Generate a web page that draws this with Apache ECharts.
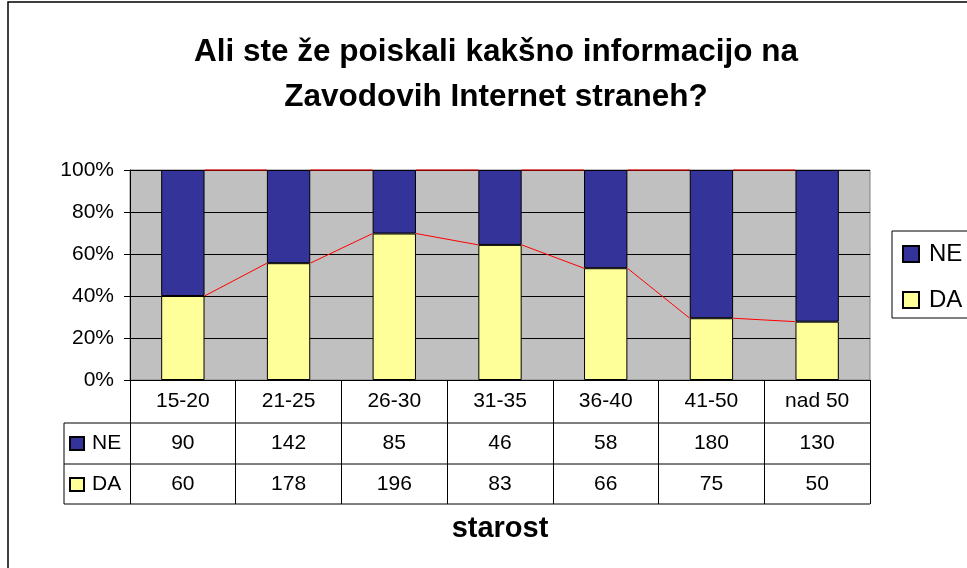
<!DOCTYPE html>
<html>
<head>
<meta charset="utf-8">
<script src="https://cdn.jsdelivr.net/npm/echarts@6/dist/echarts.min.js"></script>
<style>
  html, body { margin: 0; padding: 0; background: #fff; }
  #chart { width: 967px; height: 568px; }
</style>
</head>
<body>
<div id="chart"></div>
<script>
// podatki
const categories = ['15-20', '21-25', '26-30', '31-35', '36-40', '41-50', 'nad 50'];
const neCounts = [90, 142, 85, 46, 58, 180, 130];
const daCounts = [60, 178, 196, 83, 66, 75, 50];
const seriesNames = ['NE', 'DA'];
const titleLines = ['Ali ste že poiskali kakšno informacijo na', 'Zavodovih Internet straneh?'];
const axisTitle = 'starost';

// 100% stacked -> deleži
const daPct = daCounts.map((v, i) => v / (v + neCounts[i]) * 100);
const nePct = neCounts.map((v, i) => v / (v + daCounts[i]) * 100);

const FONT = '"Liberation Sans", Arial, sans-serif';
const GL = 130, GT = 170, GW = 740, GH = 210;
const BAR_RATIO = 0.41;
const TABLE_H = 124;

// series lines (rdeče) med stolpci
const daLinks = [];
const topLinks = [];
for (let i = 0; i < categories.length - 1; i++) {
  daLinks.push([i, daPct[i], daPct[i + 1]]);
  topLinks.push([i, daPct[i] + nePct[i], daPct[i + 1] + nePct[i + 1]]);
}

function renderLink(params, api) {
  const x = api.value(0);
  const a = api.coord([x, api.value(1)]);
  const b = api.coord([x + 1, api.value(2)]);
  const half = api.size([1, 0])[0] * BAR_RATIO / 2;
  return {
    type: 'line',
    shape: { x1: a[0] + half, y1: a[1], x2: b[0] - half, y2: b[1] },
    style: { stroke: '#ff0000', lineWidth: 1 }
  };
}

const tableBottom = GT + GH + TABLE_H;
const rowLines = [GT + GH + 43, GT + GH + 84, tableBottom].map(y => ({
  type: 'line',
  shape: { x1: 64, y1: y, x2: GL + GW, y2: y },
  style: { stroke: '#000', lineWidth: 1 }
}));

const labelStyle = { interval: 0, fontSize: 21, color: '#000', verticalAlign: 'middle' };

const chart = echarts.init(document.getElementById('chart'));
chart.setOption({
  animation: false,
  textStyle: { fontFamily: FONT },
  grid: {
    left: GL, top: GT, width: GW, height: GH,
    show: true, backgroundColor: '#c0c0c0', borderColor: '#808080', borderWidth: 1
  },
  legend: [
    {
      data: seriesNames,
      orient: 'vertical',
      left: 892, top: 231,
      padding: [11, 40, 6, 10],
      itemWidth: 16, itemHeight: 16, itemGap: 22,
      icon: 'rect',
      borderColor: '#000', borderWidth: 1,
      textStyle: { fontSize: 24, color: '#000', lineHeight: 24, padding: [0, 0, 0, 5] }
    },
    {
      data: seriesNames,
      orient: 'vertical',
      left: 69, top: 433,
      padding: 0,
      itemWidth: 14, itemHeight: 13, itemGap: 20,
      icon: 'rect',
      textStyle: { fontSize: 21, color: '#000', lineHeight: 21, padding: [0, 0, 0, 3] }
    }
  ],
  xAxis: [
    {
      type: 'category',
      data: categories,
      axisLine: { lineStyle: { color: '#000', width: 1 } },
      axisTick: { show: true, interval: 0, length: TABLE_H, lineStyle: { color: '#000' } },
      axisLabel: Object.assign({ margin: 21 }, labelStyle)
    },
    {
      type: 'category',
      data: neCounts.map(String),
      position: 'bottom',
      offset: 43,
      axisLine: { show: false },
      axisTick: { show: false },
      axisLabel: Object.assign({ margin: 20 }, labelStyle)
    },
    {
      type: 'category',
      data: daCounts.map(String),
      position: 'bottom',
      offset: 84,
      axisLine: { show: false },
      axisTick: { show: false },
      axisLabel: Object.assign({ margin: 20 }, labelStyle)
    }
  ],
  yAxis: {
    type: 'value',
    min: 0, max: 100, interval: 20,
    axisLine: { show: true, lineStyle: { color: '#000' } },
    axisTick: { show: true, length: 6, lineStyle: { color: '#000' } },
    axisLabel: { formatter: '{value}%', fontSize: 21, color: '#000', margin: 16 },
    splitLine: { lineStyle: { color: '#000', width: 1 } }
  },
  series: [
    {
      name: 'DA', type: 'bar', stack: 'skupaj', barWidth: '41%',
      data: daPct,
      itemStyle: { color: '#ffff99', borderColor: '#000', borderWidth: 1 }
    },
    {
      name: 'NE', type: 'bar', stack: 'skupaj', barWidth: '41%',
      data: nePct,
      itemStyle: { color: '#333399', borderColor: '#000', borderWidth: 1 }
    },
    {
      type: 'custom', renderItem: renderLink, data: daLinks,
      encode: { x: 0, y: [1, 2] }, z: 5, silent: true
    },
    {
      type: 'custom', renderItem: renderLink, data: topLinks,
      encode: { x: 0, y: [1, 2] }, z: 5, silent: true
    }
  ],
  graphic: [
    {
      type: 'rect', silent: true,
      shape: { x: 8, y: 2, width: 1000, height: 620 },
      style: { fill: 'none', stroke: '#000', lineWidth: 1.5 }
    },
    {
      type: 'text', x: 496, y: 52,
      style: { text: titleLines[0], font: 'bold 31.5px ' + FONT, fill: '#000', align: 'center', verticalAlign: 'middle' }
    },
    {
      type: 'text', x: 496, y: 97,
      style: { text: titleLines[1], font: 'bold 31.5px ' + FONT, fill: '#000', align: 'center', verticalAlign: 'middle' }
    },
    {
      type: 'text', x: 500, y: 529,
      style: { text: axisTitle, font: 'bold 29px ' + FONT, fill: '#000', align: 'center', verticalAlign: 'middle' }
    },
    {
      type: 'line',
      shape: { x1: 64, y1: GT + GH + 43, x2: 64, y2: tableBottom },
      style: { stroke: '#000', lineWidth: 1 }
    }
  ].concat(rowLines)
});
</script>
</body>
</html>
